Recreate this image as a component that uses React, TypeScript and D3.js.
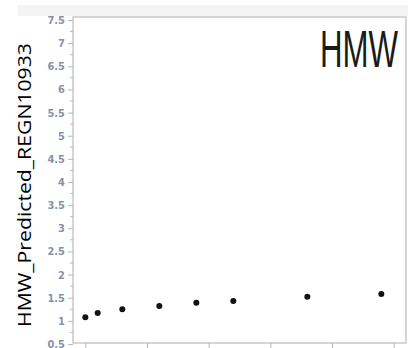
import React, { useEffect, useRef } from "react";
import * as d3 from "d3";

// time points (x) and predicted HMW values (y)
const timePoints = [0, 0.2, 0.6, 1.2, 1.8, 2.4, 3.6, 4.8];
const hmwValues = [1.08, 1.17, 1.25, 1.32, 1.39, 1.43, 1.52, 1.58];
const yTicks = [0.5, 1, 1.5, 2, 2.5, 3, 3.5, 4, 4.5, 5, 5.5, 6, 6.5, 7, 7.5];
const xTicks = [0, 1, 2, 3, 4, 5];

const App = () => {
    const ref = useRef<SVGSVGElement>(null);

    useEffect(() => {
        const width = 408;
        const height = 348;
        const frame = { left: 73, right: 406, top: 17, bottom: 343 };

        const svg = d3.select(ref.current);
        svg.selectAll("*").remove();

        svg.append("rect")
            .attr("x", 18).attr("y", 5)
            .attr("width", width - 18).attr("height", 11)
            .attr("fill", "#f3f3f3");

        const x = d3.scaleLinear().domain([-0.2, 5.2]).range([frame.left, frame.right]);
        const y = d3.scaleLinear().domain([0.5, 7.5]).range([344, 20]);

        svg.append("rect")
            .attr("x", frame.left).attr("y", frame.top)
            .attr("width", frame.right - frame.left).attr("height", frame.bottom - frame.top)
            .attr("fill", "white")
            .attr("stroke", "#c8c8c8")
            .attr("stroke-width", 1.5);

        // minor y ticks
        const minor = d3.range(0.75, 7.5, 0.5);
        svg.append("g").selectAll("line").data(minor).enter().append("line")
            .attr("x1", frame.left - 3).attr("x2", frame.left)
            .attr("y1", (d) => y(d)).attr("y2", (d) => y(d))
            .attr("stroke", "#b8b8b8");

        const yAxis = svg.append("g")
            .attr("transform", `translate(${frame.left},0)`)
            .call(d3.axisLeft(y).tickValues(yTicks).tickSize(5).tickPadding(3).tickFormat((d) => `${d}`));
        yAxis.select(".domain").remove();
        yAxis.selectAll("line").attr("stroke", "#b8b8b8");
        yAxis.selectAll("text")
            .attr("fill", "#5a6f8c")
            .style("font-family", "'Liberation Sans Narrow', 'DejaVu Sans Condensed', sans-serif")
            .style("font-size", "11px")
            .style("font-weight", "bold")
            .attr("opacity", 0.75);

        const xAxis = svg.append("g")
            .attr("transform", `translate(0,${frame.bottom})`)
            .call(d3.axisBottom(x).tickValues(xTicks).tickSize(5).tickFormat(() => ""));
        xAxis.select(".domain").remove();
        xAxis.selectAll("line").attr("stroke", "#b8b8b8");

        svg.append("g").selectAll("circle")
            .data(timePoints)
            .enter()
            .append("circle")
            .attr("cx", (d) => x(d))
            .attr("cy", (d, i) => y(hmwValues[i]))
            .attr("r", 3)
            .attr("fill", "#111");

        svg.append("text")
            .attr("x", 320).attr("y", 67)
            .attr("textLength", 78)
            .attr("lengthAdjust", "spacingAndGlyphs")
            .style("font-family", "'Liberation Sans', Arial, sans-serif")
            .style("font-size", "51px")
            .attr("fill", "#1a1a1a")
            .text("HMW");

        svg.append("text")
            .attr("transform", `translate(31,185) rotate(-90)`)
            .attr("text-anchor", "middle")
            .attr("textLength", 284)
            .attr("lengthAdjust", "spacingAndGlyphs")
            .style("font-family", "'Open Sans', sans-serif")
            .style("font-size", "19px")
            .attr("fill", "#000")
            .text("HMW_Predicted_REGN10933");
    }, []);

    return (
        <svg
            ref={ref}
            width={408}
            height={348}
            style={{ position: "absolute", left: 0, top: 0, background: "white" }}
        />
    );
};

export default App;
